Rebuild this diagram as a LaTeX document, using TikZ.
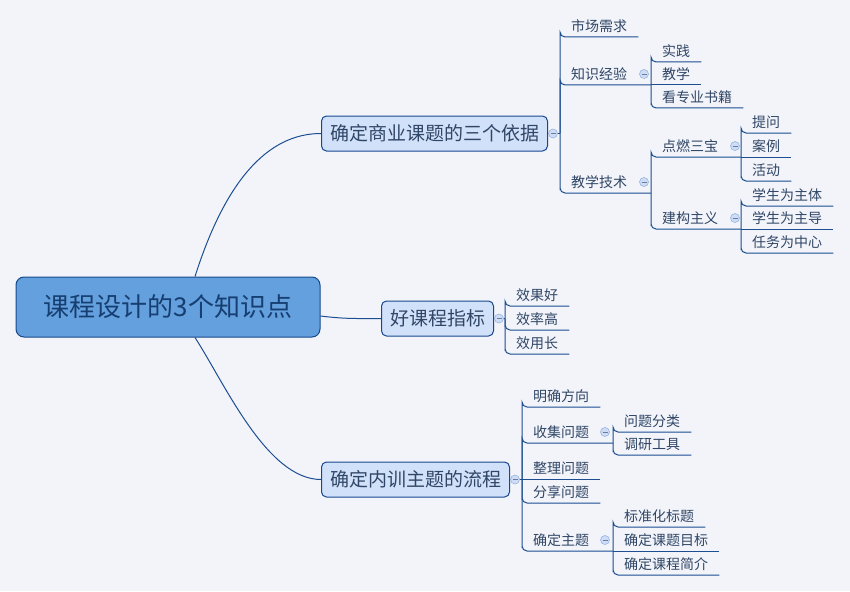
\documentclass[tikz,border=0pt]{standalone}
\usepackage{fontspec}
\newfontfamily\cjk{Noto Sans CJK SC}
\definecolor{bgblue}{RGB}{242,244,250}
\definecolor{rootfill}{RGB}{100,160,222}
\definecolor{topicfill}{RGB}{210,225,250}
\definecolor{edgeblue}{RGB}{22,72,140}
\definecolor{linkblue}{RGB}{28,78,145}
\definecolor{roottext}{RGB}{22,62,112}
\definecolor{leaftext}{RGB}{48,70,102}
\definecolor{foldfill}{RGB}{206,220,246}
\definecolor{folddraw}{RGB}{150,180,226}
\begin{document}
\begin{tikzpicture}[x=1pt,y=-1pt,
  link/.style={draw=linkblue,line width=1pt},
  elbow/.style={link,rounded corners=5pt},
  rootbox/.style={draw=edgeblue,line width=1pt,fill=rootfill,rounded corners=8pt,minimum width=304pt,minimum height=60pt,font=\cjk\fontsize{26}{30}\selectfont,text=roottext},
  topic/.style={draw=edgeblue,line width=1pt,fill=topicfill,rounded corners=5pt,inner xsep=8.5pt,minimum height=35pt,font=\cjk\fontsize{19}{22}\selectfont,text=leaftext,anchor=west},
  leaf/.style={anchor=south west,inner xsep=11pt,inner ysep=4pt,text depth=1.5pt,font=\cjk\fontsize{14}{16}\selectfont,text=leaftext},
  fold/.style={circle,draw=folddraw,fill=foldfill,line width=0.6pt,minimum size=9pt,inner sep=0pt,
    path picture={\draw[folddraw!70!black,line width=0.6pt] ([xshift=-2.5pt]path picture bounding box.center) -- ([xshift=2.5pt]path picture bounding box.center);}}]
 \fill[bgblue] (0,0) rectangle (850,591);
 \useasboundingbox (0,0) rectangle (850,591);

 \node[rootbox] (root) at (168,307) {课程设计的3个知识点};
 \node[topic] (t1) at (321,133.5) {确定商业课题的三个依据};
 \node[topic] (t2) at (381,318.5) {好课程指标};
 \node[topic] (t3) at (321,479.5) {确定内训主题的流程};

 \draw[link] ([xshift=27pt]root.north) .. controls (225,182) and (267,133.5) .. (t1.west);
 \draw[link] ([yshift=-9pt]root.east) .. controls (345,319) and (355,318.5) .. (t2.west);
 \draw[link] ([xshift=27pt]root.south) .. controls (225,384) and (267,479.5) .. (t3.west);

 \coordinate (j1) at (560,133.5);
 \coordinate (j11) at (651,85);
 \coordinate (j12) at (651,193);
 \coordinate (j121) at (741,157);
 \coordinate (j122) at (741,229);
 \coordinate (j2) at (505,318.5);
 \coordinate (j3) at (522,479.5);
 \coordinate (j31) at (613,443);
 \coordinate (j32) at (613,551);

 \node[leaf] (a1) at (560,37) {市场需求};
 \node[leaf] (a2) at (560,85) {知识经验};
 \node[leaf] (a3) at (560,193) {教学技术};
 \node[leaf] (a21) at (651,62) {实践};
 \node[leaf] (a22) at (651,85) {教学};
 \node[leaf] (a23) at (651,108) {看专业书籍};
 \node[leaf] (a31) at (651,157) {点燃三宝};
 \node[leaf] (a32) at (651,229) {建构主义};
 \node[leaf] (a311) at (741,133) {提问};
 \node[leaf] (a312) at (741,157) {案例};
 \node[leaf] (a313) at (741,181) {活动};
 \node[leaf] (a321) at (741,206) {学生为主体};
 \node[leaf] (a322) at (741,229) {学生为主导};
 \node[leaf] (a323) at (741,253) {任务为中心};

 \node[leaf] (b1) at (505,306) {效果好};
 \node[leaf] (b2) at (505,330) {效率高};
 \node[leaf] (b3) at (505,354) {效用长};

 \node[leaf] (c1) at (522,407) {明确方向};
 \node[leaf] (c2) at (522,443) {收集问题};
 \node[leaf] (c3) at (522,479.5) {整理问题};
 \node[leaf] (c4) at (522,503) {分享问题};
 \node[leaf] (c5) at (522,551) {确定主题};
 \node[leaf] (c21) at (613,432) {问题分类};
 \node[leaf] (c22) at (613,455) {调研工具};
 \node[leaf] (c51) at (613,527) {标准化标题};
 \node[leaf] (c52) at (613,551) {确定课题目标};
 \node[leaf] (c53) at (613,575) {确定课程简介};

 \draw[link] (t1.east) -- (j1);
 \draw[elbow] (j1) |- (a1.south west) -- (a1.south east);
 \draw[elbow] (j1) |- (a2.south west) -- (j11);
 \draw[elbow] (j1) |- (a3.south west) -- (j12);
 \draw[elbow] (j11) |- (a21.south west) -- (a21.south east);
 \draw[link] (j11) -- (a22.south east);
 \draw[elbow] (j11) |- (a23.south west) -- (a23.south east);
 \draw[elbow] (j12) |- (a31.south west) -- (j121);
 \draw[elbow] (j12) |- (a32.south west) -- (j122);
 \draw[elbow] (j121) |- (a311.south west) -- (a311.south east);
 \draw[link] (j121) -- (a312.south east);
 \draw[elbow] (j121) |- (a313.south west) -- (a313.south east);
 \draw[elbow] (j122) |- (a321.south west) -- (a321.south east);
 \draw[link] (j122) -- (a322.south east);
 \draw[elbow] (j122) |- (a323.south west) -- (a323.south east);

 \draw[link] (t2.east) -- (j2);
 \draw[elbow] (j2) |- (b1.south west) -- (b1.south east);
 \draw[elbow] (j2) |- (b2.south west) -- (b2.south east);
 \draw[elbow] (j2) |- (b3.south west) -- (b3.south east);

 \draw[link] (t3.east) -- (j3);
 \draw[elbow] (j3) |- (c1.south west) -- (c1.south east);
 \draw[elbow] (j3) |- (c2.south west) -- (j31);
 \draw[link] (j3) -- (c3.south east);
 \draw[elbow] (j3) |- (c4.south west) -- (c4.south east);
 \draw[elbow] (j3) |- (c5.south west) -- (j32);
 \draw[elbow] (j31) |- (c21.south west) -- (c21.south east);
 \draw[elbow] (j31) |- (c22.south west) -- (c22.south east);
 \draw[elbow] (j32) |- (c51.south west) -- (c51.south east);
 \draw[link] (j32) -- (c52.south east);
 \draw[elbow] (j32) |- (c53.south west) -- (c53.south east);

 \node[fold] (f1) at (553,133.5) {};
 \node[fold] (f2) at (499,318.5) {};
 \node[fold] (f3) at (515,479.5) {};
 \node[fold] (f11) at (644,74) {};
 \node[fold] (f12) at (644,182) {};
 \node[fold] (f121) at (735,146) {};
 \node[fold] (f122) at (735,218) {};
 \node[fold] (f31) at (605,432) {};
 \node[fold] (f32) at (605,540) {};
\end{tikzpicture}
\end{document}
